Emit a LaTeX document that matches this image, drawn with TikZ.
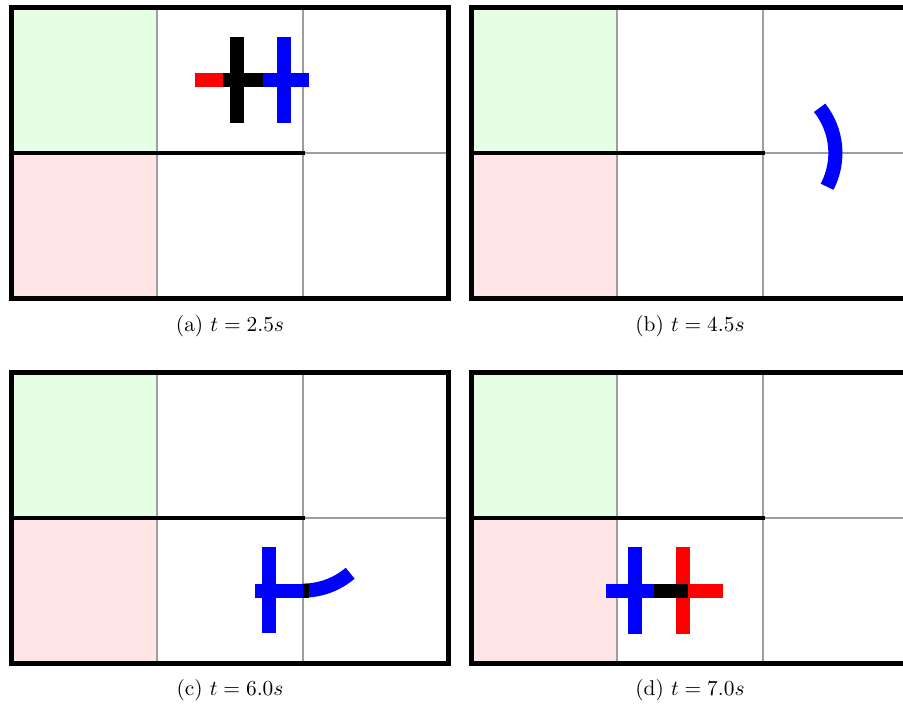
\documentclass[tikz,border=0pt]{standalone}
\tikzset{
  gridline/.style={draw=black!38, line width=0.7pt},
  wallline/.style={draw=black, line width=2.3pt},
  borderline/.style={draw=black, line width=2.6pt},
  arcbar/.style={draw=blue, line width=6.6pt},
  caption/.style={inner sep=0pt, font=\normalsize}
}
\newcommand\drawpanel[2]{%
  \begin{scope}[shift={(#1,#2)}]
    \fill[green!10] (0,0) rectangle (145.67,-145.5);
    \fill[red!10] (0,-145.5) rectangle (145.67,-291);
    \draw[gridline] (145.67,0) -- (145.67,-291) (291.33,0) -- (291.33,-291) (0,-145.5) -- (437,-145.5);
    \draw[wallline] (0,-145.5) -- (293.5,-145.5);
    \draw[borderline] (0,0) rectangle (437,-291);
  \end{scope}}
\begin{document}
\begin{tikzpicture}[x=0.4676pt,y=0.4676pt]
\useasboundingbox (0,0) rectangle (903,-706);
\fill[white] (0,0) rectangle (903,-706);

% panels
\drawpanel{11.5}{-7.5}
\drawpanel{471.5}{-7.5}
\drawpanel{11.5}{-372.5}
\drawpanel{471.5}{-372.5}

% (a) t = 2.5s
\fill[red]   (195,-73.3) rectangle (223,-86.7);
\fill[black] (223,-73.3) rectangle (263,-86.7);
\fill[black] (230,-36.7) rectangle (244.3,-122.7);
\fill[blue]  (263,-73.3) rectangle (309.3,-86.7);
\fill[blue]  (276.7,-37) rectangle (291,-123);

% (b) t = 4.5s
\coordinate (cb) at (762.8,-153);
\draw[arcbar] (cb) ++(-27.7:72.6) arc[start angle=-27.7, end angle=38.5, radius=72.6];

% (c) t = 6.0s
\fill[blue]  (261.7,-547.3) rectangle (276,-633.3);
\fill[blue]  (255,-583.5) rectangle (303.3,-597.7);
\coordinate (cc) at (303,-518);
\draw[arcbar] (cc) ++(-90:72.6) arc[start angle=-90, end angle=-49.5, radius=72.6];
\fill[black] (303.3,-584) rectangle (309.3,-597.7);

% (d) t = 7.0s
\fill[blue]  (628.3,-547.3) rectangle (642.3,-634);
\fill[blue]  (605.7,-584.3) rectangle (654,-597.7);
\fill[red]   (675.7,-547.3) rectangle (690,-634);
\fill[black] (654,-584.3) rectangle (688.3,-597.7);
\fill[red]   (688.3,-584.3) rectangle (722.7,-597.7);

% captions
\node[caption] (capa) at (230,-325.7) {(a) $t = 2.5s$};
\node[caption] (capb) at (690,-325.7) {(b) $t = 4.5s$};
\node[caption] (capc) at (230,-690) {(c) $t = 6.0s$};
\node[caption] (capd) at (690,-690) {(d) $t = 7.0s$};
\end{tikzpicture}
\end{document}
